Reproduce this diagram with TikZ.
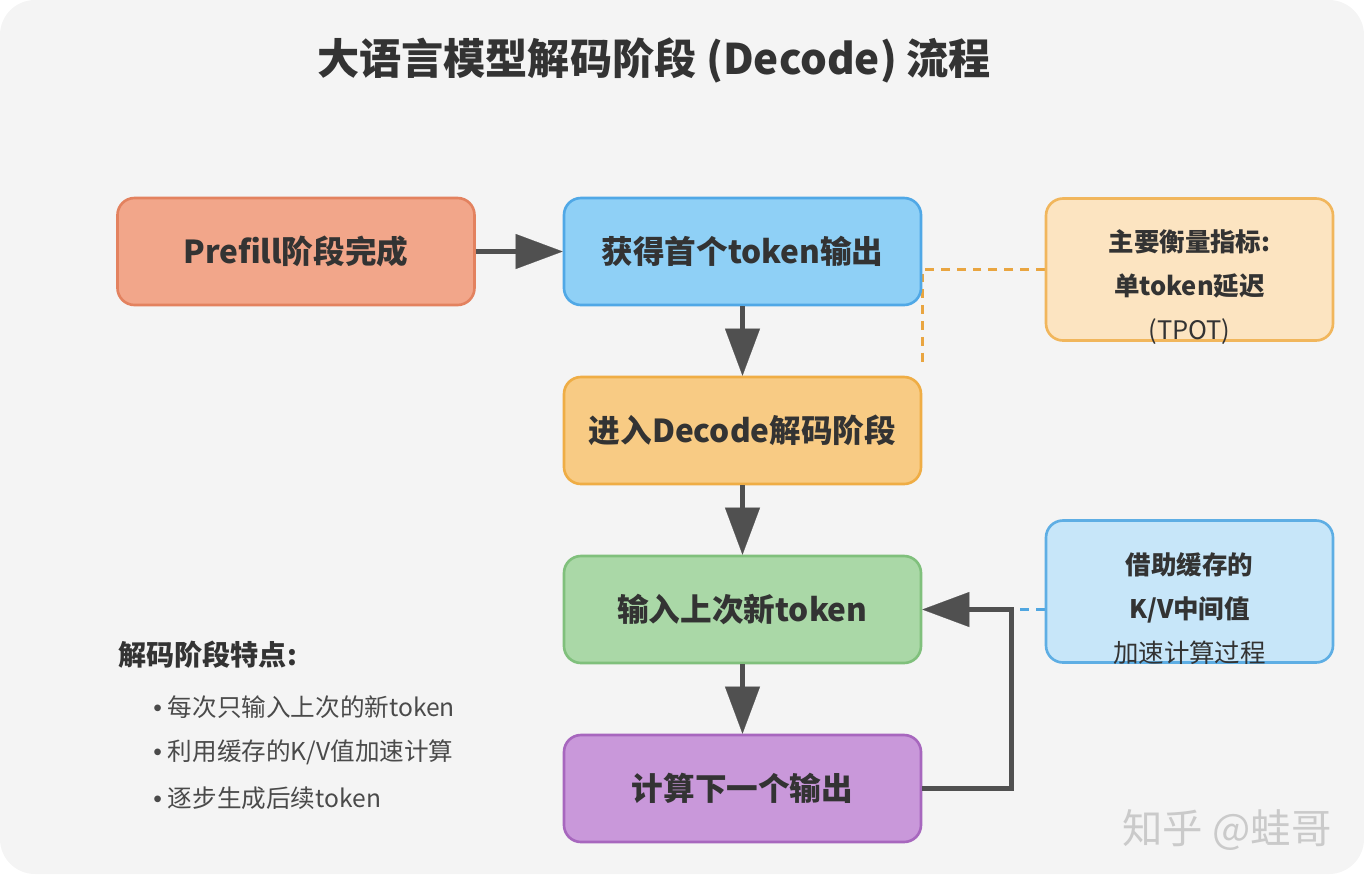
\documentclass[tikz,border=0pt]{standalone}
\usepackage{fontspec}
\setmainfont{Noto Sans CJK SC}
\newfontfamily\bulletfont{Liberation Sans}
\usetikzlibrary{arrows.meta,backgrounds}

\definecolor{backdrop}{HTML}{F4F4F4}
\definecolor{textgray}{HTML}{333333}
\definecolor{pointgray}{HTML}{4A4A4A}
\definecolor{arrowgray}{HTML}{505050}
\definecolor{markgray}{HTML}{CACACA}
\definecolor{prefillfill}{HTML}{F2A68A}
\definecolor{prefilldraw}{HTML}{E3825F}
\definecolor{firstfill}{HTML}{8FD0F6}
\definecolor{firstdraw}{HTML}{50A8E6}
\definecolor{decodefill}{HTML}{F8CB84}
\definecolor{decodedraw}{HTML}{EFAD45}
\definecolor{inputfill}{HTML}{AAD8A7}
\definecolor{inputdraw}{HTML}{80C07C}
\definecolor{calcfill}{HTML}{C998DA}
\definecolor{calcdraw}{HTML}{A767BE}
\definecolor{tpotfill}{HTML}{FCE4C1}
\definecolor{tpotdraw}{HTML}{F1B65C}
\definecolor{tpotlink}{HTML}{E9A540}
\definecolor{kvfill}{HTML}{C7E6F9}
\definecolor{kvdraw}{HTML}{5EAEE4}
\definecolor{kvlink}{HTML}{50A6E0}

\begin{document}
\begin{tikzpicture}[>={Triangle[length=0.94cm,width=0.7cm,line width=0.1pt]},node distance=3.58cm,
  stage node/.style={rectangle,rounded corners=0.34cm,draw,line width=1.5pt,minimum width=7.14cm,minimum height=2.14cm,font=\fontsize{18}{21}\selectfont\bfseries,text=textgray},
  side node/.style={rectangle,rounded corners=0.34cm,draw,line width=1.5pt,minimum width=5.74cm,minimum height=2.84cm},
  side text/.style={align=center,font=\fontsize{14.5}{25}\selectfont,text=textgray},
  point/.style={anchor=west,inner sep=0pt,font=\fontsize{14}{16}\selectfont,text=pointgray},
  flow/.style={->,color=arrowgray,line width=3.2pt},
  side link/.style={line width=1.5pt,dash pattern=on 5pt off 4pt}]

    \useasboundingbox (-14.85,5.03) rectangle (12.43,-12.45);

    \node[stage node, fill=firstfill, draw=firstdraw] (first) {获得首个token输出};
    \node[stage node, fill=prefillfill, draw=prefilldraw] (prefill) [left of=first, node distance=8.93cm] {Prefill阶段完成};
    \node[stage node, fill=decodefill, draw=decodedraw] (decode) [below of=first] {进入Decode解码阶段};
    \node[stage node, fill=inputfill, draw=inputdraw] (input) [below of=decode] {输入上次新token};
    \node[stage node, fill=calcfill, draw=calcdraw] (calc) [below of=input] {计算下一个输出};

    \node[side node, fill=tpotfill, draw=tpotdraw] (tpot) [right of=first, node distance=8.94cm, yshift=-0.36cm] {};
    \node[side text, yshift=-0.35cm] (tpottext) at (tpot) {\textbf{主要衡量指标:}\\\textbf{单token延迟}\\(TPOT)};
    \node[side node, fill=kvfill, draw=kvdraw] (kv) [right of=input, node distance=8.94cm, yshift=0.36cm] {};
    \node[side text, yshift=-0.34cm] (kvtext) at (kv) {\textbf{借助缓存的}\\\textbf{K/V中间值}\\加速计算过程};

    \node[font=\fontsize{24}{28}\selectfont\bfseries, text=textgray] (title) at (-1.77,3.83) {大语言模型解码阶段 (Decode) 流程};

    % notes
    \node[anchor=west, inner sep=0pt, font=\fontsize{16}{18}\selectfont\bfseries, text=textgray] (notes) at (-12.49,-8.07) {解码阶段特点:};
    \node[point] (p1) at (-11.79,-9.11) {{\bulletfont•}\hspace{0.24em}每次只输入上次的新token};
    \node[point] (p2) at (-11.79,-10.01) {{\bulletfont•}\hspace{0.24em}利用缓存的K/V值加速计算};
    \node[point] (p3) at (-11.79,-10.93) {{\bulletfont•}\hspace{0.24em}逐步生成后续token};

    \node[font=\fontsize{23}{27}\selectfont, text=markgray] (mark) at (9.69,-11.57) {知乎 @蛙哥};

    \path[flow]
    (prefill) edge (first)
    (first) edge (decode)
    (decode) edge (input)
    (input) edge (calc);

    \draw[flow]
    (calc.east)
    -- ++(right:1.78cm) coordinate (turn)
    |- (input.east);

    \begin{scope}[on background layer]
    \fill[backdrop, rounded corners=0.7cm] (-14.85,5.03) rectangle (12.43,-12.45);
    \draw[side link, draw=tpotlink] (tpot.west) -- (tpot.west -| first.east) -- ([yshift=0.18cm]decode.north east);
    \draw[side link, draw=kvlink] (kv.west |- input.east) -- (turn |- input.east);
    \end{scope}

\end{tikzpicture}
\end{document}
